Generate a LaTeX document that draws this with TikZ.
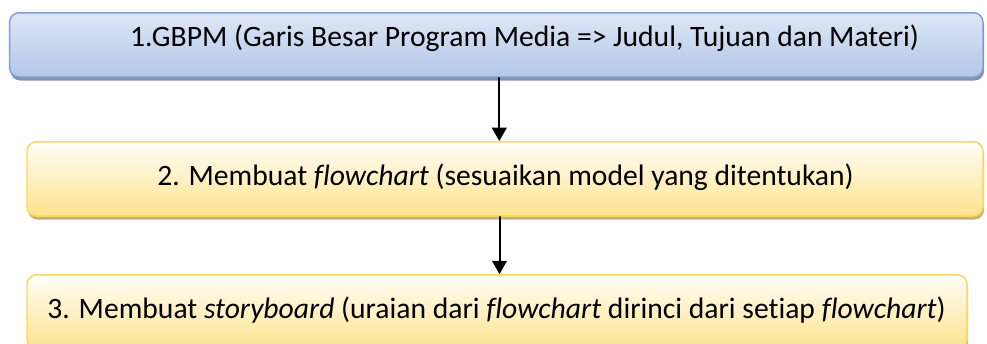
\documentclass[tikz,border=0pt]{standalone}
\usepackage{fontspec}
\setmainfont{Carlito}[Ligatures=NoCommon]
\usetikzlibrary{calc,arrows.meta}

\definecolor{atasbiru}{RGB}{222,231,246}
\definecolor{bawahbiru}{RGB}{178,198,232}
\definecolor{garisbiru}{RGB}{128,160,214}
\definecolor{bayangbiru}{RGB}{132,146,170}
\definecolor{ataskuning}{RGB}{255,254,248}
\definecolor{bawahkuning}{RGB}{253,227,140}
\definecolor{gariskuning}{RGB}{252,214,96}
\definecolor{bayangkuning}{RGB}{196,178,125}

\begin{document}
\begin{tikzpicture}[x=0.75pt,y=-0.75pt,line cap=round]
	\tikzstyle{kotak}=[rectangle,rounded corners=7pt,inner sep=0pt,line width=1.1pt];
	\tikzstyle{biru}=[kotak,draw=garisbiru,top color=atasbiru,bottom color=bawahbiru,preaction={fill=bayangbiru,transform canvas={xshift=0.8pt,yshift=-2.6pt}}];
	\tikzstyle{kuning}=[kotak,draw=gariskuning,top color=ataskuning,bottom color=bawahkuning,preaction={fill=bayangkuning,transform canvas={xshift=0.8pt,yshift=-2.6pt}}];
	\tikzstyle{teks}=[anchor=base,inner sep=0pt,font=\fontsize{22.2}{26}\selectfont];
	\tikzstyle{panah}=[line width=1.5pt,-{Triangle[width=11pt,length=10pt]}];

	\useasboundingbox (0,0) rectangle (987,343);

	% kotak
	\node[biru,minimum width=730pt,minimum height=48.2pt] (b1) at (496.3,44.9) {};
	\node[kuning,minimum width=717pt,minimum height=55.7pt] (b2) at (505,178.9) {};
	\node[kuning,minimum width=705pt,minimum height=55.7pt] (b3) at (497,312) {};

	% teks
	\node[teks] (t1) at (524.5,46.7) {1.GBPM (Garis Besar Program Media => Judul, Tujuan dan Materi)};
	\node[teks] (t2) at (505.5,185) {2. Membuat \textit{flowchart} (sesuaikan model yang ditentukan)};
	\node[teks] (t3) at (496.5,318.3) {3. Membuat \textit{storyboard} (uraian dari \textit{flowchart} dirinci dari setiap \textit{flowchart})};

	% panah
	\coordinate (p1) at ($(b1.south)+(3,0)$);
	\coordinate (p2) at ($(b2.south)+(-5.5,0)$);
	\draw[panah] (p1) -- (p1 |- b2.north);
	\draw[panah] (p2) -- (p2 |- b3.north);
\end{tikzpicture}
\end{document}
